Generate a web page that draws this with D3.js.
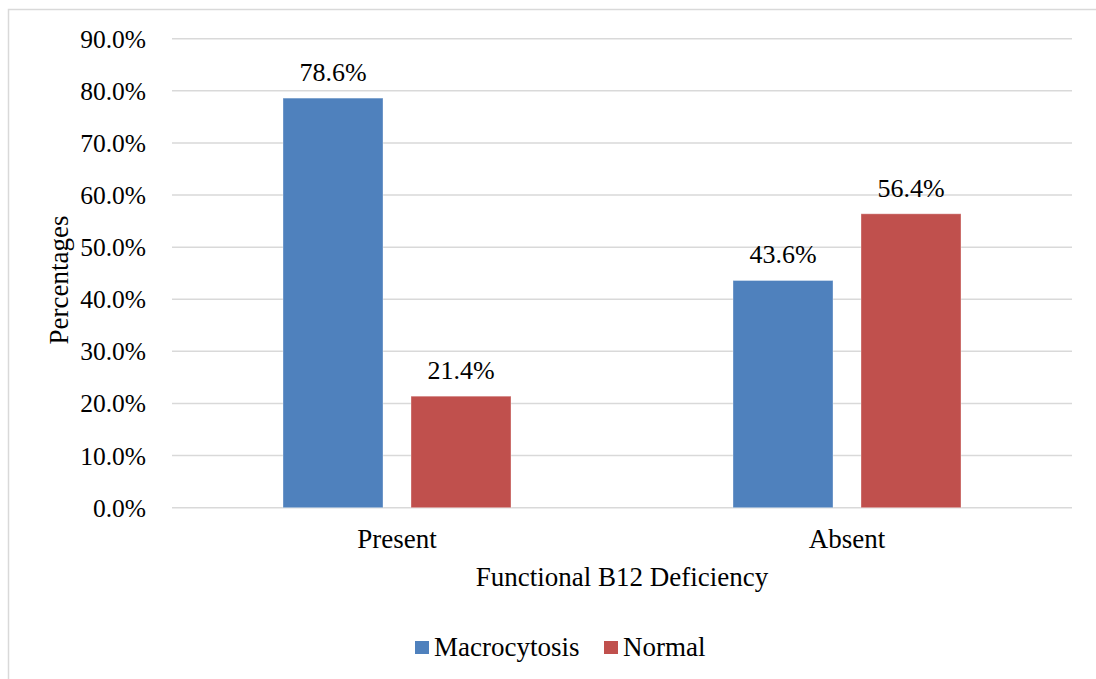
<!DOCTYPE html>
<html>
<head>
<meta charset="utf-8">
<script src="https://cdn.jsdelivr.net/npm/d3@7"></script>
<style>
  html, body { margin: 0; padding: 0; background: #fff; }
  svg { display: block; }
  svg text { font-family: "Liberation Serif", "Times New Roman", serif; fill: #000; }
</style>
</head>
<body>
<svg id="chart" width="1096" height="679"></svg>
<script>
// Functional B12 deficiency vs. red cell size
const categories = ["Present", "Absent"];
const seriesNames = ["Macrocytosis", "Normal"];
const macrocytosis = [78.6, 43.6];
const normal = [21.4, 56.4];
const yTicks = [0, 10, 20, 30, 40, 50, 60, 70, 80, 90];
const colors = ["#4f81bd", "#c0504d"];

const svg = d3.select("#chart");
const W = 1096, H = 679;
const serif = "'Liberation Serif', 'Times New Roman', serif";
const tickSize = 25.5, labelSize = 26, titleSize = 27;

// Outer frame
svg.append("rect")
  .attr("x", 8.5).attr("y", 9.5)
  .attr("width", W + 20).attr("height", H + 20)
  .attr("fill", "none").attr("stroke", "#d9d9d9").attr("stroke-width", 1.5);

const plot = { left: 172, right: 1072, top: 38.7, bottom: 507.7 };

const x0 = d3.scaleBand().domain(categories).range([plot.left, plot.right]).padding(0);
const x1 = d3.scaleBand().domain(seriesNames).range([111, x0.bandwidth() - 111])
  .paddingInner(0.21875).paddingOuter(0);
const y = d3.scaleLinear().domain([0, 90]).range([plot.bottom, plot.top]);

// Gridlines
svg.append("g").selectAll("line").data(yTicks).join("line")
  .attr("x1", plot.left).attr("x2", plot.right)
  .attr("y1", d => y(d)).attr("y2", d => y(d))
  .attr("stroke", "#d9d9d9").attr("stroke-width", 1.5);

// Y tick labels
svg.append("g").selectAll("text").data(yTicks).join("text")
  .attr("x", 146).attr("y", d => y(d))
  .attr("dy", "0.35em")
  .attr("text-anchor", "end")
  .attr("font-family", serif)
  .attr("font-size", tickSize)
  .text(d => d.toFixed(1) + "%");

// Flattened bar records
const bars = [];
categories.forEach((c, i) => {
  bars.push({ cat: c, s: seriesNames[0], v: macrocytosis[i], j: 0 });
  bars.push({ cat: c, s: seriesNames[1], v: normal[i], j: 1 });
});
const barX = d => x0(d.cat) + x1(d.s);

svg.append("g").selectAll("rect").data(bars).join("rect")
  .attr("x", barX).attr("width", x1.bandwidth())
  .attr("y", d => y(d.v)).attr("height", d => y(0) - y(d.v))
  .attr("fill", d => colors[d.j])
  .attr("stroke", "#ffffff").attr("stroke-opacity", 0.35).attr("stroke-width", 1);

// Value labels
svg.append("g").selectAll("text").data(bars).join("text")
  .attr("x", d => barX(d) + x1.bandwidth() / 2)
  .attr("y", d => y(d.v) - 17)
  .attr("text-anchor", "middle")
  .attr("font-family", serif)
  .attr("font-size", labelSize)
  .text(d => d.v.toFixed(1) + "%");

// Category labels
svg.append("g").selectAll("text").data(categories).join("text")
  .attr("x", d => x0(d) + x0.bandwidth() / 2)
  .attr("y", 548)
  .attr("text-anchor", "middle")
  .attr("font-family", serif)
  .attr("font-size", titleSize)
  .text(d => d);

// Axis titles
svg.append("text")
  .attr("x", (plot.left + plot.right) / 2).attr("y", 586)
  .attr("text-anchor", "middle")
  .attr("font-family", serif)
  .attr("font-size", titleSize)
  .text("Functional B12 Deficiency");

svg.append("text")
  .attr("transform", "translate(68,280) rotate(-90)")
  .attr("text-anchor", "middle")
  .attr("font-family", serif)
  .attr("font-size", titleSize)
  .text("Percentages");

// Legend
const legend = svg.append("g");
const legendX = [415, 604];
seriesNames.forEach((name, i) => {
  legend.append("rect")
    .attr("x", legendX[i]).attr("y", 641).attr("width", 14).attr("height", 13)
    .attr("fill", colors[i]);
  legend.append("text")
    .attr("x", legendX[i] + 19).attr("y", 656)
    .attr("font-family", serif)
    .attr("font-size", titleSize)
    .text(name);
});
</script>
</body>
</html>
